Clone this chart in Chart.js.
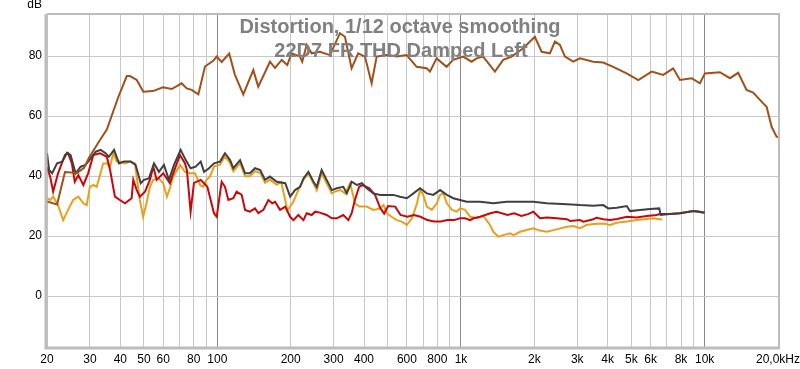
<!DOCTYPE html>
<html>
<head>
<meta charset="utf-8">
<title>Distortion, 1/12 octave smoothing</title>
<script src="https://cdn.jsdelivr.net/npm/chart.js@4.4.1/dist/chart.umd.min.js"></script>
<style>
  html, body { margin: 0; padding: 0; background: #fff; }
  canvas { display: block; }
</style>
</head>
<body>
<canvas id="distChart" width="800" height="369"></canvas>
<script>
// Fundamental (FR)
const fundFreq = [20, 22, 23, 23.7, 26.6, 28.4, 29.7, 32.7, 35.2, 39.1, 42.5, 43.8, 46.7, 49.7, 54.4, 59.8, 65, 71.4, 74.9, 78.5, 83.6, 89, 96.2, 99.4, 104.2, 111.9, 118, 127.8, 140.5, 147.2, 164.5, 172.5, 183.8, 193.7, 201.8, 218.3, 223, 232.7, 243.9, 263.6, 289.9, 318.6, 334, 355.7, 378.5, 403.6, 429.8, 450.8, 495.4, 544.5, 598.6, 657.9, 723, 746, 794.3, 873, 929, 1021, 1106, 1159, 1233, 1378, 1490, 1613, 1800, 2010, 2143, 2317, 2429, 2547, 2671, 2890, 3078, 3489, 3835, 4214, 4783, 5339, 6059, 6762, 7431, 7919, 8843, 9561, 10024, 11550, 12697, 13730, 14860, 15820, 17390, 17960, 18830, 19730, 20000];
const fundDb = [31.5, 30.5, 37, 41.3, 41, 42.7, 46, 51.5, 55.5, 66, 73.3, 73.3, 72, 68.1, 68.3, 69.6, 69, 70.9, 69.2, 68.7, 67.2, 76.5, 78.4, 79.8, 78, 80.8, 73.8, 67.2, 75.3, 69.8, 78.1, 76, 78.7, 77, 80.9, 79.8, 78.1, 83.7, 80.9, 81.4, 80.3, 87.6, 86.4, 75.9, 80.9, 79.8, 70.9, 79.8, 80.3, 79.8, 80.3, 76.4, 75.9, 74.8, 79.2, 76.4, 78.7, 79.8, 78.1, 79.2, 79.8, 74.8, 78.7, 79.8, 82.6, 86.4, 81.4, 80.9, 84.8, 83.7, 79.8, 78.1, 79.2, 78.1, 77.8, 76.4, 74.2, 72, 74.8, 73.7, 75.9, 72, 72.6, 70.9, 74.2, 74.6, 72.6, 74.4, 68.7, 67.8, 64.2, 63.1, 56.4, 53.1, 53];

// THD
const thdFreq = [20, 20.4, 21, 22, 23.1, 24.2, 25, 26.2, 27.5, 28.8, 30.2, 31.7, 33.2, 34.8, 35.9, 37.7, 39.5, 41.4, 44.1, 46.2, 48.5, 50, 52.4, 55, 57.6, 60.4, 63.3, 66.4, 70.7, 74.2, 77.7, 81.5, 85.5, 88.2, 92.5, 96.9, 102.6, 107.5, 112.8, 116.3, 124, 130, 136, 142.8, 150, 157, 164.5, 175.4, 190, 199, 208.4, 218.6, 225.7, 236.5, 248, 256, 268, 281, 295, 309, 329, 340, 356, 373.6, 392, 410.5, 437, 466, 496, 528, 562, 600, 638, 679, 724, 770, 821, 875, 930, 991, 1056, 1124, 1198, 1358, 1541, 1748, 1981, 2248, 2718, 3080, 3490, 3835, 4023, 4360, 4790, 4940, 5430, 5970, 6510, 6600, 7210, 7920, 9000, 9570, 9880, 10000];
const thdDb = [47.6, 42, 40.9, 44.2, 44.8, 47.8, 47, 40.9, 43.1, 43.7, 45.9, 48.1, 48.7, 47.6, 46.4, 48.7, 44.2, 44.8, 44.8, 43.7, 37.6, 38.7, 39.2, 44.2, 41.4, 43.7, 38.7, 43.7, 48.7, 45.3, 42.6, 43.1, 44.8, 41.4, 42.6, 44.2, 44.8, 47.6, 45.3, 42.6, 45.3, 40.9, 40.9, 42.6, 42, 38.7, 39.8, 38.1, 37.6, 33.1, 35.3, 36.4, 39.2, 41.4, 38.1, 36.4, 42, 38.7, 35.3, 35.9, 36.4, 34.2, 38.1, 37, 37.6, 35.9, 34.2, 33.7, 33.7, 33.7, 33.1, 32.6, 34.2, 35.9, 34.2, 33.7, 35.3, 33.7, 32.6, 32, 31.4, 31.4, 31.4, 30.9, 31.4, 31.4, 31.4, 30.9, 30.6, 30.3, 30.1, 30.3, 29.2, 29.4, 30, 28.3, 28.7, 29, 29.2, 27, 27.3, 27.6, 28.3, 28.1, 27.8, 28];

// 2nd harmonic
const h2Freq = [20, 20.6, 21.2, 22.2, 23.7, 24.4, 25.3, 26, 26.9, 28.2, 29.5, 31, 33, 35.2, 36.3, 38, 39.8, 41.8, 44.5, 45.2, 46.7, 48.1, 50.5, 52.9, 54.6, 56.4, 60, 63.9, 65.9, 70.3, 73.7, 75, 77.7, 80.2, 85.5, 91, 96.9, 99.4, 104.2, 107.5, 111, 116.3, 120, 125.9, 130, 136, 142.8, 147.4, 154.5, 162, 168, 172.5, 180.9, 190, 199, 205.3, 215, 225.7, 232.7, 244, 251.9, 263.6, 281, 295, 309, 329, 345, 356, 367, 382, 395, 421, 444, 467, 484, 502, 537, 565, 602, 641, 682, 728, 775, 826, 880, 937, 991, 1040, 1090, 1126, 1199, 1320, 1400, 1553, 1653, 1770, 1885, 1981, 2110, 2250, 2470, 2718, 2805, 3080, 3180, 3490, 3600, 3840, 4090, 4370, 4800, 5260, 5790, 6350, 6550, 7200, 7920, 9000, 9870];
const h2Db = [43, 39.8, 34.8, 40.9, 47, 47.6, 44.2, 38.1, 40.3, 37, 40.9, 47, 47.6, 46.4, 42, 33.1, 32, 30.9, 32.6, 38.7, 35.3, 33.1, 34.8, 38.7, 43.1, 38.7, 40.9, 37.6, 40.9, 47, 44.2, 42, 28.1, 37.7, 38.7, 36.4, 27.6, 26.4, 38.1, 36.4, 32, 32.6, 34.8, 33.7, 28.7, 28.1, 29.2, 27.6, 28.7, 32, 30.9, 31.4, 28.7, 29.8, 26.4, 25.3, 27, 25.3, 27.6, 27, 28.1, 27.8, 27, 25.9, 25.9, 27, 25.3, 27.6, 32, 36.4, 37, 35.9, 33.7, 29.2, 27.5, 30, 29.8, 27, 26.4, 27, 26.4, 25.3, 24.8, 24.8, 25.3, 25.3, 25.9, 25.9, 25.3, 25.9, 26.4, 27.6, 28.1, 27, 27.6, 26.7, 27.3, 28.1, 25.9, 26.2, 25.9, 25.6, 25, 25.3, 24.8, 25.6, 26.1, 25.6, 25.3, 25.7, 26.4, 26.2, 26.7, 27, 27.3, 27.3, 27.6, 28.3, 27.8];

// 3rd harmonic
const h3Freq = [20, 20.6, 21.2, 22.2, 23.3, 24.4, 25.6, 26.9, 28.2, 29.1, 30, 31, 32, 33, 34, 35.2, 36.3, 37.4, 38.6, 39.8, 41.8, 43.8, 45.9, 48.1, 49.6, 51.2, 52.9, 54.6, 57.4, 60, 62.1, 63.9, 65.9, 70.3, 73.7, 77.2, 81, 85, 87.5, 90.3, 93.2, 97, 102.6, 107.5, 112.8, 116.3, 124, 130, 136, 142.8, 150, 157, 164.5, 175.4, 183, 194, 205, 215, 225.7, 236.5, 248, 256, 268, 281, 295, 303, 320, 335, 351, 367, 382, 410, 437, 466, 481, 496, 519, 545, 571, 600, 629, 660, 679, 700, 724, 759, 796, 821, 847, 875, 918, 962, 991, 1040, 1090, 1162, 1234, 1274, 1315, 1358, 1424, 1493, 1592, 1645, 1748, 1862, 1981, 2110, 2248, 2470, 2718, 2895, 3080, 3280, 3490, 3835, 4090, 4360, 4790, 5260, 5780, 6150, 6560, 6700];
const h3Db = [32.6, 32, 33.1, 30.3, 25.3, 28.7, 32, 33.1, 30.9, 30.3, 36.4, 37, 36.4, 40.3, 44.2, 44.2, 43.1, 47.6, 44.8, 44.8, 44.2, 44.8, 44.2, 32, 26.4, 30.9, 36.4, 38.7, 39.2, 37.6, 33.1, 35.9, 39.8, 43.7, 41.4, 40.9, 40.9, 37, 36.4, 38.7, 39.8, 43.2, 43.8, 46.5, 44.3, 41.6, 44.3, 39.9, 39.9, 41.6, 41, 37.7, 38.8, 37.1, 38, 28.5, 31.4, 35.3, 38.7, 40.9, 37.6, 35.3, 40.9, 37.6, 34.2, 34.8, 35.3, 34.2, 37.6, 30.9, 29.8, 29.8, 28.7, 29.2, 30.3, 27.6, 26.4, 25.3, 24.8, 23.7, 25.9, 30.9, 35.3, 33.7, 29.8, 28.7, 30.9, 33.7, 34.2, 30.9, 28.7, 28.1, 29.2, 28.7, 26.4, 25.9, 26.7, 25.3, 23.7, 21.4, 19.8, 20.3, 20.9, 20.3, 21.4, 22, 22.6, 21.8, 21.4, 22.2, 23.1, 23.3, 22.6, 23.7, 24, 24.2, 23.7, 24.4, 24.8, 25.3, 25.7, 25.9, 25.6, 25.5];

// Axis ticks
const freqGrid = [20, 30, 40, 50, 60, 70, 80, 90, 100, 200, 300, 400, 500, 600, 700, 800, 900, 1000, 2000, 3000, 4000, 5000, 6000, 7000, 8000, 9000, 10000, 20000];
const freqLabels = {20: "20", 30: "30", 40: "40", 50: "50", 60: "60", 80: "80", 100: "100", 200: "200", 300: "300", 400: "400", 600: "600", 800: "800", 1000: "1k", 2000: "2k", 3000: "3k", 4000: "4k", 5000: "5k", 6000: "6k", 8000: "8k", 10000: "10k", 20000: "20,0kHz"};
const dbTicks = [0, 20, 40, 60, 80];

const titleLines = ["Distortion, 1/12 octave smoothing", "22D7 FR THD Damped Left"];

const toPoints = (xs, ys) => xs.map((f, i) => ({ x: f, y: ys[i] }));

const makeSet = (label, xs, ys, color) => ({
  label: label,
  data: toPoints(xs, ys),
  borderColor: color,
  backgroundColor: color,
  borderWidth: 2,
  pointRadius: 0,
  tension: 0,
  fill: false,
});

// frame, title and unit label on top of the plot
const framePlugin = {
  id: "frame",
  afterDraw(chart) {
    const ctx = chart.ctx;
    const a = chart.chartArea;
    ctx.save();
    ctx.strokeStyle = "#bcbcbc";
    ctx.lineWidth = 2;
    ctx.beginPath();
    ctx.moveTo(a.left, a.top);
    ctx.lineTo(a.right + 1, a.top);
    ctx.lineTo(a.right + 1, a.bottom);
    ctx.stroke();
    ctx.lineWidth = 3;
    ctx.beginPath();
    ctx.moveTo(a.left - 1, a.top);
    ctx.lineTo(a.left - 1, a.bottom + 1);
    ctx.lineTo(a.right + 2, a.bottom + 1);
    ctx.stroke();

    ctx.fillStyle = "#000";
    ctx.font = "12px 'Liberation Sans', Arial, sans-serif";
    ctx.textAlign = "right";
    ctx.textBaseline = "middle";
    ctx.fillText("dB", 42, 5);

    ctx.fillStyle = "#808080";
    ctx.font = "bold 20px 'Liberation Sans', Arial, sans-serif";
    ctx.textAlign = "center";
    ctx.textBaseline = "alphabetic";
    ctx.fillText(titleLines[0], 400, 33);
    ctx.fillText(titleLines[1], 401, 57);
    ctx.restore();
  },
};

const ctx = document.getElementById("distChart").getContext("2d");

const distChart = new Chart(ctx, {
  type: "line",
  data: {
    datasets: [
      makeSet("Fundamental", fundFreq, fundDb, "#a0501a"),
      makeSet("THD", thdFreq, thdDb, "#404040"),
      makeSet("H2", h2Freq, h2Db, "#c80808"),
      makeSet("H3", h3Freq, h3Db, "#e8a01c"),
    ],
  },
  options: {
    responsive: false,
    animation: false,
    layout: { padding: { top: 14, right: 22, left: 0, bottom: 0 } },
    plugins: {
      legend: { display: false },
      tooltip: { enabled: false },
    },
    scales: {
      x: {
        type: "logarithmic",
        min: 20,
        max: 20000,
        afterBuildTicks: (scale) => {
          scale.ticks = freqGrid.map((v) => ({ value: v }));
        },
        afterFit: (scale) => {
          scale.height = 22;
          scale.paddingLeft = 0;
          scale.paddingRight = 0;
        },
        border: { display: false },
        grid: {
          drawTicks: false,
          color: (c) => ([100, 1000, 10000].includes(c.tick && c.tick.value) ? "#8a8a8a" : "#c8c8c8"),
          lineWidth: 1,
        },
        ticks: {
          autoSkip: false,
          maxRotation: 0,
          padding: 5,
          color: "#000",
          font: { family: "'Liberation Sans', Arial, sans-serif", size: 12 },
          callback: (v) => freqLabels[v] || "",
        },
      },
      y: {
        type: "linear",
        min: -17,
        max: 94,
        afterBuildTicks: (scale) => {
          scale.ticks = dbTicks.map((v) => ({ value: v }));
        },
        afterFit: (scale) => {
          scale.width = 47;
        },
        border: { display: false },
        grid: { drawTicks: false, color: "#c8c8c8", lineWidth: 1 },
        ticks: {
          padding: 5,
          color: "#000",
          font: { family: "'Liberation Sans', Arial, sans-serif", size: 12 },
        },
      },
    },
  },
  plugins: [framePlugin],
});
</script>
</body>
</html>
